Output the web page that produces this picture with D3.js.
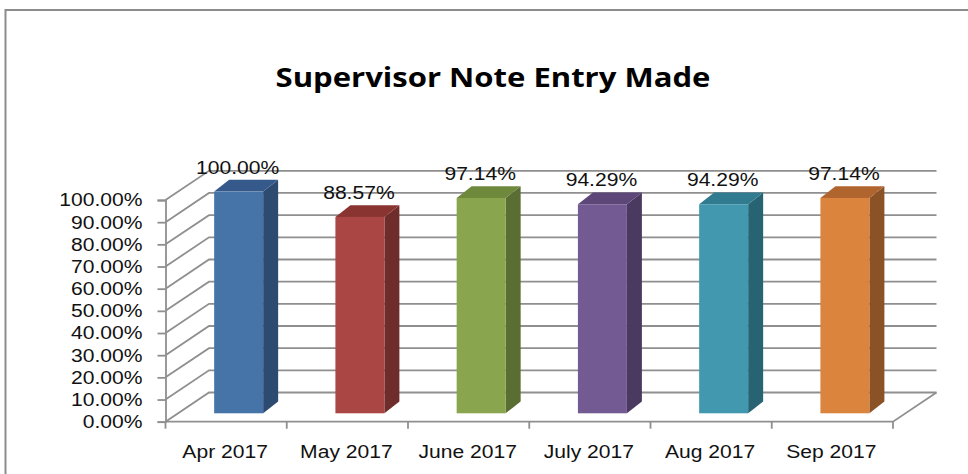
<!DOCTYPE html>
<html>
<head>
<meta charset="utf-8">
<script src="https://cdn.jsdelivr.net/npm/d3@7"></script>
<style>
  html, body { margin: 0; padding: 0; background: #ffffff; }
  svg { display: block; }
  text { font-family: "Liberation Sans", Arial, sans-serif; fill: #111; }
  text.title { font-family: "Open Sans", sans-serif; fill: #000; }
</style>
</head>
<body>
<svg id="chart" width="968" height="474"></svg>
<script>
// ---- data ----
const categories = ["Apr 2017", "May 2017", "June 2017", "July 2017", "Aug 2017", "Sep 2017"];
const values = [100.00, 88.57, 97.14, 94.29, 94.29, 97.14];
const valueLabels = ["100.00%", "88.57%", "97.14%", "94.29%", "94.29%", "97.14%"];
const tickValues = [0, 10, 20, 30, 40, 50, 60, 70, 80, 90, 100];
const tickLabels = ["0.00%", "10.00%", "20.00%", "30.00%", "40.00%", "50.00%", "60.00%", "70.00%", "80.00%", "90.00%", "100.00%"];
const frontColors = ["#4673A8", "#AA4744", "#89A54E", "#735A92", "#4198AF", "#DB843D"];
const sideColors  = ["#2D4A70", "#6E2D2B", "#5A6D32", "#4A3A5F", "#286374", "#8B5226"];
const topColors   = ["#35598A", "#8A3431", "#6E883C", "#5C4778", "#307B8F", "#B0652F"];
const title = "Supervisor Note Entry Made";

// ---- layout ----
const svg = d3.select("#chart");
const gridColor = "#8f8f8f";
const x0 = 165.5, x1 = 893;
const wallDx = 43.5, wallDy = -29.2;       // depth of the plot box
const barT = 0.288;                         // bar front-face depth fraction
const barDx = 15, barDy = -11.8;            // bar depth
const barFrac = 0.404;
const sx = 1.14;                            // horizontal text stretch
const fs = 18.5;

const x = d3.scaleBand().domain(categories).range([x0, x1]).padding(0);
const y = d3.scaleLinear().domain([0, 100]).range([421.7, 200]);

// frame
svg.append("rect").attr("x", 5.5).attr("y", 10).attr("width", 980).attr("height", 480)
  .attr("fill", "#fff").attr("stroke", "#8c8c8c").attr("stroke-width", 2);

// title
svg.append("text").attr("class", "title")
  .attr("transform", `translate(493,87) scale(1.15,1)`).attr("text-anchor", "middle")
  .attr("font-size", 27).attr("font-weight", "bold").text(title);

const g = svg.append("g");

// side wall + back wall gridlines
tickValues.forEach(v => {
  const yy = y(v);
  g.append("path")
    .attr("d", `M${x0},${yy} L${x0 + wallDx},${yy + wallDy} L${x1 + wallDx},${yy + wallDy}`)
    .attr("fill", "none").attr("stroke", gridColor).attr("stroke-width", 1.8);
});
// floor front & right edges
g.append("path")
  .attr("d", `M${x0},${y(0)} L${x1},${y(0)} L${x1 + wallDx},${y(0) + wallDy}`)
  .attr("fill", "none").attr("stroke", gridColor).attr("stroke-width", 1.8);

// category ticks
categories.concat(["__end"]).forEach((c, i) => {
  const xx = i < categories.length ? x(c) : x1;
  g.append("line").attr("x1", xx).attr("x2", xx).attr("y1", y(0)).attr("y2", y(0) + 7)
    .attr("stroke", gridColor).attr("stroke-width", 1.8);
});

// value axis
const axis = d3.axisLeft(y).tickValues(tickValues).tickSize(8).tickPadding(15)
  .tickFormat((d, i) => tickLabels[i]);
const ag = g.append("g").attr("transform", `translate(${x0},0)`).call(axis);
ag.select(".domain").attr("stroke", gridColor).attr("stroke-width", 1.8);
ag.selectAll(".tick line").attr("stroke", gridColor).attr("stroke-width", 1.8);
ag.selectAll(".tick text").attr("font-size", fs).attr("fill", "#111")
  .attr("x", -23 / sx).attr("transform", `scale(${sx},1)`);

// bars
const bw = x.bandwidth() * barFrac;
categories.forEach((c, i) => {
  const cx = x(c) + x.bandwidth() / 2 + barT * wallDx;
  const fx = cx - bw / 2;
  const by = y(0) + barT * wallDy;
  const ty = y(values[i]) + barT * wallDy;
  const bg = g.append("g");
  // side
  bg.append("path")
    .attr("d", `M${fx + bw},${by} L${fx + bw + barDx},${by + barDy} L${fx + bw + barDx},${ty + barDy} L${fx + bw},${ty} Z`)
    .attr("fill", sideColors[i]);
  // top
  bg.append("path")
    .attr("d", `M${fx},${ty} L${fx + barDx},${ty + barDy} L${fx + bw + barDx},${ty + barDy} L${fx + bw},${ty} Z`)
    .attr("fill", topColors[i]);
  // front
  bg.append("rect").attr("x", fx).attr("y", ty).attr("width", bw).attr("height", by - ty)
    .attr("fill", frontColors[i]);
  // value label
  bg.append("text").attr("transform", `translate(${cx - 1},${ty + barDy - 6}) scale(${sx},1)`)
    .attr("text-anchor", "middle").attr("font-size", fs).text(valueLabels[i]);
  // category label
  g.append("text").attr("transform", `translate(${x(c) + x.bandwidth() / 2 - 1},458) scale(${sx},1)`)
    .attr("text-anchor", "middle").attr("font-size", fs).text(c);
});
</script>
</body>
</html>
